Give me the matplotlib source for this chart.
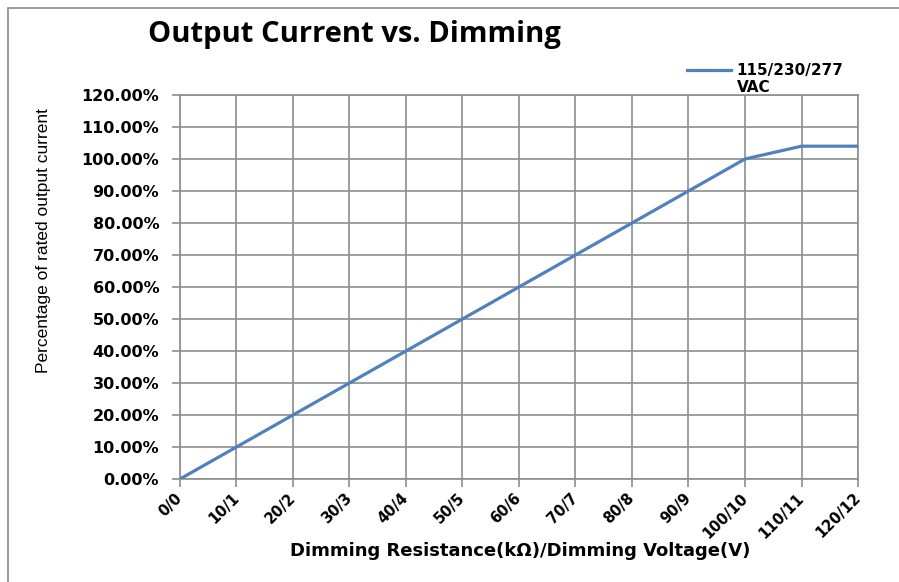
import matplotlib.pyplot as plt
from matplotlib.patches import Rectangle
from matplotlib.ticker import FuncFormatter

# dimming resistance (kOhm) / dimming voltage (V)
categories = ['0/0', '10/1', '20/2', '30/3', '40/4', '50/5', '60/6',
              '70/7', '80/8', '90/9', '100/10', '110/11', '120/12']
# percentage of rated output current
output_pct = [0, 10, 20, 30, 40, 50, 60, 70, 80, 90, 100, 104, 104]
series_name = ['115/230/277', 'VAC']

tick_font = dict(family='DejaVu Sans', weight='bold', size=11.5)

fig = plt.figure(figsize=(8.99, 5.82), dpi=100)
ax = fig.add_axes([0.2002, 0.1770, 0.7542, 0.6598])

x = range(len(categories))
ax.plot(x, output_pct, color='#4F81BD', lw=2.3, label=series_name[0], zorder=3)

ax.set_xlim(0, len(categories) - 1)
ax.set_ylim(0, 120)
ax.set_xticks(list(x))
ax.set_xticklabels(categories, rotation=45, ha='right', va='center',
                   rotation_mode='anchor',
                   fontdict=dict(tick_font, size=10.5))
ax.set_yticks(range(0, 121, 10))
ax.yaxis.set_major_formatter(FuncFormatter(lambda v, p: f'{v:.2f}%'))
for lab in ax.get_yticklabels():
    lab.set_fontproperties(tick_font)

gc = '#8e8e8e'
ax.grid(True, color=gc, lw=1.2)
for s in ax.spines.values():
    s.set_color(gc)
    s.set_linewidth(1.2)
ax.tick_params(axis='both', color=gc, width=1.2, length=6)
ax.tick_params(axis='y', pad=9)
ax.tick_params(axis='x', pad=6)

ax.set_ylabel('Percentage of rated output current', fontsize=12.5,
              family=['Liberation Sans Narrow', 'Liberation Sans'])
ax.yaxis.set_label_coords(-0.19, 0.622)
ax.set_xlabel('Dimming Resistance(kΩ)/Dimming Voltage(V)', fontsize=13,
              fontweight='bold', family='DejaVu Sans', va='center')
ax.xaxis.set_label_coords(0.5015, -0.1875)

fig.text(0.1646, 0.94, 'Output Current vs. Dimming', fontsize=21,
         fontweight='bold', family='Open Sans', va='center', ha='left')

leg_font = dict(family='DejaVu Sans', weight='bold', size=11)
ax.legend(loc='center left', bbox_to_anchor=(687 / 899, 1 - 71 / 582),
          bbox_transform=fig.transFigure, frameon=False, borderpad=0,
          borderaxespad=0, handlelength=2.9, handletextpad=0.3, prop=leg_font)
fig.text(737 / 899, 1 - 87 / 582, series_name[1], va='center', ha='left',
         fontdict=leg_font)

fig.patches.append(Rectangle((0.009, -0.02), 1.1, 1.006, transform=fig.transFigure,
                             fill=False, edgecolor='#8a8a8a', lw=1.2))

fig.savefig('out.png', dpi=100)
